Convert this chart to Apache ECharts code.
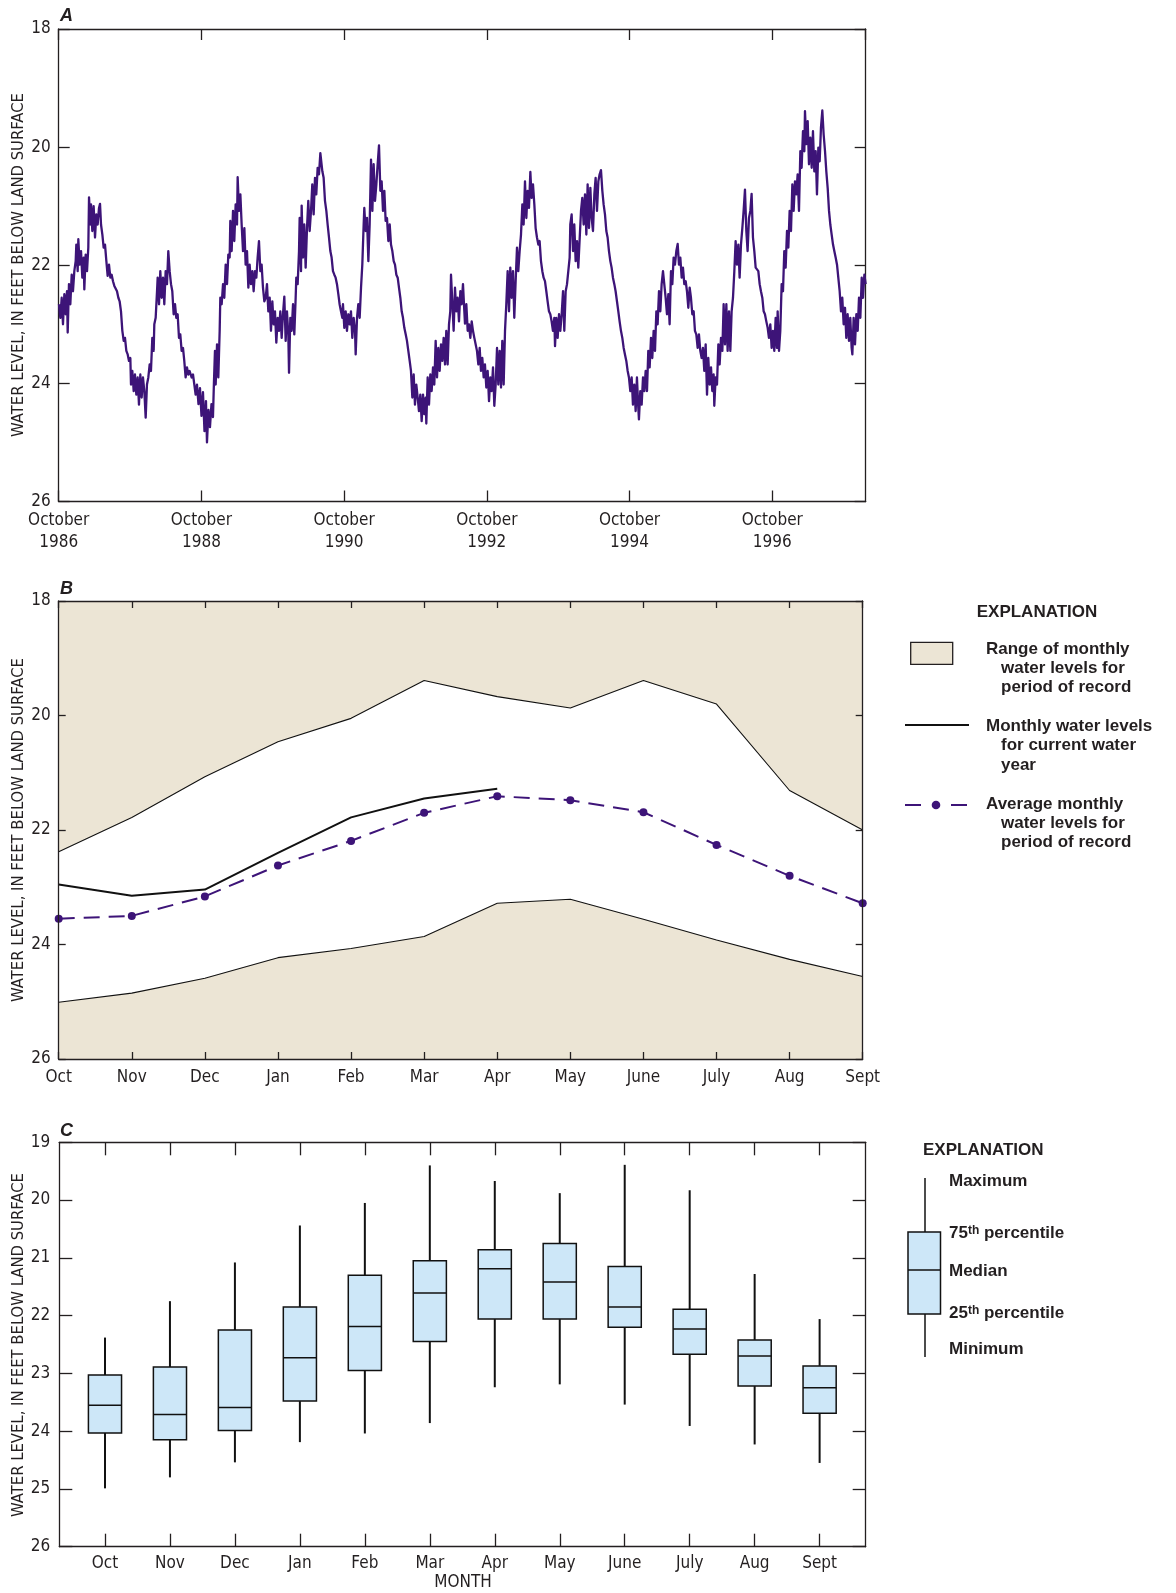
<!DOCTYPE html>
<html><head><meta charset="utf-8">
<script src="https://cdn.jsdelivr.net/npm/echarts@6/dist/echarts.min.js"></script>
<style>html,body{margin:0;padding:0;background:#fff}#chart{width:1176px;height:1593px}</style>
</head><body><div id="chart"></div>
<script>
// ---------- Panel A: hydrograph (time in years since 1 October 1986) ----------
const hydroStartYear = 1986;
const hydroTickYears = [0, 2, 4, 6, 8, 10];
const hydroTime = [
0.004,0.023,0.042,0.060,0.079,0.098,0.116,0.126,0.144,0.163,0.182,0.200,0.219,0.238,0.247,0.266,0.275,0.294,0.313,0.331,
0.350,0.359,0.378,0.397,0.415,0.425,0.443,0.453,0.471,0.490,0.509,0.527,0.546,0.565,0.579,0.593,0.612,0.630,0.649,0.668,
0.686,0.705,0.724,0.742,0.761,0.780,0.798,0.817,0.836,0.854,0.873,0.892,0.911,0.929,0.948,0.967,0.985,1.004,1.013,1.032,
1.051,1.069,1.088,1.107,1.125,1.144,1.163,1.181,1.200,1.219,1.237,1.256,1.275,1.293,1.312,1.331,1.340,1.359,1.378,1.387,
1.406,1.424,1.443,1.462,1.480,1.499,1.518,1.536,1.555,1.574,1.592,1.611,1.630,1.648,1.667,1.686,1.704,1.723,1.742,1.760,
1.779,1.798,1.817,1.835,1.863,1.882,1.901,1.919,1.938,
1.959,1.980,2.001,2.022,2.043,2.064,2.078,2.099,2.120,2.141,2.162,2.176,
2.190,2.200,2.219,2.237,2.256,2.265,2.284,2.303,2.321,2.340,2.359,2.377,2.396,2.405,2.424,2.443,2.461,2.480,2.499,2.508,
2.527,2.546,2.564,2.583,2.602,2.620,2.639,2.658,2.676,2.695,2.714,2.732,2.751,2.770,2.788,2.807,2.826,2.844,2.863,2.882,
2.901,2.919,2.938,2.957,2.975,2.994,3.013,3.031,3.050,3.069,3.087,3.106,3.125,3.143,3.162,3.181,3.199,3.218,3.228,3.246,
3.265,3.284,3.302,3.321,3.330,3.349,3.368,3.377,3.396,3.405,3.424,3.442,3.461,3.480,3.498,3.517,3.536,3.554,3.573,3.592,
3.610,3.629,3.648,3.667,3.676,3.695,3.713,3.732,3.751,3.769,3.788,3.807,3.825,3.844,3.863,3.881,3.900,3.919,3.937,3.956,
3.975,3.984,4.003,4.022,4.040,4.059,4.078,4.096,4.115,4.134,4.153,4.162,4.181,4.199,4.218,4.237,4.255,4.274,4.283,4.302,
4.321,4.340,4.358,4.377,4.396,4.414,4.433,4.452,4.470,4.489,4.508,4.526,4.545,4.564,4.582,4.601,4.620,4.639,4.657,4.676,
4.695,4.713,4.732,4.751,4.769,4.788,4.807,4.825,4.844,4.863,4.881,4.900,4.919,4.937,4.956,4.975,4.993,5.012,5.031,5.049,
5.068,5.087,5.106,5.124,5.143,5.152,5.171,5.190,5.208,5.227,5.246,5.264,5.283,5.302,5.320,5.339,5.358,5.376,5.395,5.414,
5.432,5.451,5.470,5.488,5.498,5.516,5.535,5.554,5.573,5.591,5.610,5.629,5.647,5.666,5.685,
5.694,5.713,5.732,5.750,5.769,5.788,5.806,5.825,5.844,5.862,5.881,5.900,5.918,5.937,5.956,5.974,5.993,6.012,6.031,6.049,
6.068,6.087,6.105,6.124,6.143,6.161,6.180,6.199,6.217,6.236,6.255,6.273,6.292,6.311,6.329,6.348,6.367,6.385,6.404,6.423,
6.441,6.460,6.479,6.498,6.516,6.535,6.554,6.572,6.591,6.610,6.628,6.647,6.666,6.684,6.703,6.722,6.740,6.759,6.778,6.796,
6.815,6.834,6.852,6.871,6.890,6.908,6.927,6.946,6.956,6.974,6.993,7.012,7.030,7.049,7.068,7.086,7.105,7.124,7.142,7.161,
7.170,7.189,7.208,7.226,7.245,7.264,7.282,7.301,7.320,7.338,7.357,7.376,7.395,7.413,7.432,7.451,7.469,7.488,7.507,7.525,
7.544,7.563,7.581,7.600,7.619,7.637,7.656,7.675,7.693,7.712,7.731,7.749,7.768,7.787,7.805,7.824,7.843,7.861,7.880,7.899,
7.918,7.936,7.955,7.974,7.992,8.011,8.030,8.048,8.067,8.086,8.104,8.123,8.132,8.151,8.170,8.189,8.207,8.226,8.245,8.263,
8.282,8.301,8.319,8.338,8.357,8.376,8.394,8.413,8.432,8.450,8.469,
8.506,8.525,8.544,8.562,8.581,8.600,8.618,8.637,8.656,8.675,8.693,8.712,8.731,8.749,8.768,8.787,8.805,8.824,8.843,8.861,
8.880,8.899,8.917,8.936,8.955,8.973,8.992,9.011,9.029,9.048,9.067,9.086,9.104,9.123,9.142,9.160,9.179,9.188,9.207,9.226,
9.245,9.263,9.282,9.301,9.319,9.338,9.357,9.375,9.394,9.413,9.431,9.450,9.469,9.487,9.506,9.525,9.543,9.562,9.581,9.599,
9.618,9.637,9.655,9.674,9.693,9.711,9.730,9.749,9.768,9.786,9.805,9.824,9.842,9.861,9.880,9.898,9.917,9.936,9.954,9.973,
9.992,10.010,10.029,10.048,10.066,10.076,10.095,10.113,10.132,10.151,10.169,10.188,10.207,10.226,10.244,10.263,10.282,10.300,10.319,10.338,
10.356,10.375,10.394,10.412,10.431,10.450,10.459,10.478,10.497,10.515,10.534,10.553,10.571,10.590,10.609,10.627,10.646,10.665,10.683,10.702,
10.721,10.740,10.758,10.777,10.796,10.814,10.833,10.852,10.870,10.889,10.908,10.926,10.945,10.964,10.982,11.001,11.020,11.038,11.057,11.076,
11.094,11.113,11.123,11.141,11.160,11.179,11.198,11.216,11.235,11.254,11.272,11.291,11.310
];
const hydroLevel = [
22.66,22.89,22.55,23.00,22.49,22.83,22.44,23.14,22.32,22.66,22.16,22.44,22.10,21.93,21.65,22.10,21.56,21.99,21.76,22.21,
21.87,22.41,21.82,22.10,21.70,20.85,21.31,20.97,21.42,21.00,21.53,21.14,21.31,21.03,20.96,21.31,21.48,21.70,21.65,21.93,
22.18,21.99,22.21,22.16,22.27,22.35,22.32,22.44,22.55,22.61,22.78,23.11,23.28,23.23,23.45,23.51,23.62,23.57,24.02,23.79,
24.13,23.85,24.19,23.90,24.36,23.85,24.24,23.90,24.13,24.58,24.02,23.90,23.68,23.79,23.23,23.45,23.00,22.89,22.44,22.21,
22.66,22.10,22.55,22.21,22.66,22.10,22.32,21.76,22.10,22.32,22.44,22.83,22.66,22.89,22.83,23.23,23.17,23.45,23.40,23.62,
23.90,23.73,23.85,23.79,23.90,23.85,24.02,24.19,24.02,
24.35,24.08,24.55,24.15,24.81,24.30,25.00,24.45,24.74,24.35,24.57,23.97,
23.45,24.02,23.34,23.90,23.11,22.55,22.66,22.32,22.55,21.99,22.32,21.82,21.87,21.25,21.76,21.08,21.59,20.97,21.31,20.51,
21.08,20.80,21.31,21.76,21.37,21.99,21.76,22.38,21.99,22.32,22.10,22.44,22.10,22.21,21.87,21.59,22.10,21.99,22.38,22.61,
22.55,22.32,22.78,22.55,23.11,22.61,23.00,22.78,23.31,22.89,23.11,22.78,23.23,22.83,22.53,23.28,22.78,23.17,23.82,22.89,
23.11,22.66,23.17,22.55,22.21,22.32,21.76,21.20,22.10,20.99,21.87,21.31,22.04,21.37,20.91,21.42,21.08,20.63,21.14,20.52,
20.80,20.35,20.46,20.10,20.07,20.41,20.52,20.91,21.08,21.31,21.53,21.76,21.87,22.10,22.16,22.21,22.32,22.49,22.66,22.78,
22.89,22.66,23.06,22.78,23.11,22.83,23.00,22.78,23.23,22.89,23.11,23.51,22.89,22.66,22.89,22.38,21.99,21.31,21.03,21.42,
21.20,21.93,21.31,20.21,21.08,20.29,20.91,20.63,20.29,19.97,20.74,20.58,21.08,20.74,21.25,21.20,21.59,21.31,21.65,21.76,
21.93,21.99,22.16,22.21,22.38,22.55,22.78,22.89,23.06,23.17,23.28,23.45,23.62,23.79,24.24,23.85,24.36,24.02,24.24,24.47,
24.19,24.64,24.19,24.52,24.24,24.68,23.90,24.36,23.85,24.13,23.73,24.02,23.28,23.90,23.40,23.79,23.34,23.62,23.23,23.68,
23.11,23.68,23.00,22.78,22.16,22.61,23.11,22.38,22.78,22.55,22.95,22.44,22.66,22.32,22.78,
22.99,22.66,23.11,23.00,23.23,22.95,23.11,23.23,23.34,23.45,23.68,23.40,23.79,23.57,23.90,23.68,24.07,23.79,24.30,23.90,
24.13,23.73,24.38,24.02,23.40,24.02,23.45,24.07,23.28,24.02,23.11,22.66,22.10,22.78,22.04,22.55,22.10,22.89,22.27,21.70,
22.10,21.76,21.48,20.97,21.31,20.58,21.20,20.74,21.03,20.42,20.86,20.63,20.97,21.37,21.53,21.65,21.59,21.93,22.10,22.21,
22.27,22.44,22.61,22.78,22.83,22.95,23.11,22.89,23.37,22.89,23.23,22.83,23.11,22.83,22.44,23.11,22.44,22.32,22.10,21.87,
21.31,21.14,21.76,21.31,21.93,21.59,22.04,22.04,21.08,20.86,21.31,20.80,21.48,20.63,21.37,20.69,21.20,21.42,20.80,20.52,
21.08,20.58,20.46,20.39,20.74,20.97,21.14,21.42,21.53,21.76,21.93,22.04,22.21,22.32,22.44,22.61,22.78,22.95,23.11,23.23,
23.40,23.51,23.62,23.79,23.90,24.13,23.90,24.36,24.02,24.47,23.90,24.41,24.61,24.13,24.36,23.90,24.13,23.79,24.13,23.45,
23.73,23.23,23.57,23.11,23.45,22.78,23.00,22.44,22.78,22.32,22.10,
22.55,22.83,22.49,23.00,22.10,22.32,21.87,21.99,21.76,21.64,21.99,21.87,22.21,22.04,22.32,22.27,22.44,22.72,22.38,22.55,
22.83,22.78,23.11,23.17,23.40,23.17,23.45,23.57,23.40,23.79,23.34,24.19,23.57,24.02,23.73,24.13,23.85,24.38,23.90,24.02,
23.34,23.68,23.23,23.45,22.66,23.34,22.66,23.45,22.78,23.45,22.78,22.55,22.10,21.59,21.99,21.65,22.21,21.65,21.37,21.08,
20.72,21.42,21.76,21.20,21.08,20.79,21.53,21.76,22.04,22.07,22.10,22.32,22.44,22.55,22.78,22.83,22.95,23.06,23.23,23.00,
23.40,23.11,23.45,22.89,23.40,22.78,23.45,23.11,22.32,22.44,21.76,22.04,21.42,21.70,21.08,21.42,20.63,21.08,20.58,20.80,
20.46,21.08,20.07,20.35,19.73,20.07,19.39,19.95,19.56,20.29,19.84,20.35,19.73,20.41,20.07,20.80,20.01,20.24,19.67,19.38,
19.79,20.07,20.41,20.69,21.08,21.31,21.48,21.65,21.76,21.87,21.99,22.21,22.44,22.78,22.55,23.00,22.72,23.23,22.83,23.28,
22.89,23.40,23.51,22.89,23.34,22.83,23.11,22.55,22.89,22.21,22.55,22.16,22.32
];

// ---------- Panel B: monthly levels ----------
const monthNames = ['Oct','Nov','Dec','Jan','Feb','Mar','Apr','May','June','July','Aug','Sept'];
const rangeShallowest = [22.38, 21.78, 21.07, 20.46, 20.05, 19.39, 19.67, 19.87, 19.39, 19.80, 21.31, 22.00];
const rangeDeepest    = [25.01, 24.85, 24.59, 24.23, 24.07, 23.86, 23.28, 23.21, 23.56, 23.92, 24.26, 24.56];
const currentYearLevel = [22.95, 23.15, 23.04, 22.40, 21.78, 21.45, 21.28];
const averageMonthly   = [23.55, 23.50, 23.16, 22.62, 22.19, 21.70, 21.41, 21.48, 21.69, 22.26, 22.80, 23.28];

// ---------- Panel C: box plots ----------
const boxMaximum = [22.38, 21.75, 21.08, 20.44, 20.05, 19.40, 19.67, 19.88, 19.39, 19.83, 21.28, 22.06];
const box75th    = [23.03, 22.89, 22.25, 21.85, 21.30, 21.05, 20.86, 20.75, 21.15, 21.89, 22.42, 22.87];
const boxMedian  = [23.55, 23.71, 23.59, 22.73, 22.19, 21.61, 21.19, 21.42, 21.85, 22.23, 22.70, 23.25];
const box25th    = [24.03, 24.15, 23.99, 23.48, 22.95, 22.45, 22.06, 22.06, 22.20, 22.67, 23.22, 23.69];
const boxMinimum = [24.99, 24.80, 24.54, 24.19, 24.04, 23.86, 23.24, 23.19, 23.54, 23.91, 24.23, 24.55];

// ---------- styling ----------
const FRAME = '#231f20', TXT = '#231f20', PURPLE = '#3d1478', BEIGE = '#ece5d5', BOXFILL = '#cde7f8';
const NARROW = "'Liberation Sans Narrow','Arial Narrow','DejaVu Sans Condensed',sans-serif";
const BOLD = "'Liberation Sans',Arial,sans-serif";
const TITLE = 'WATER LEVEL, IN FEET BELOW LAND SURFACE';

function aLine(){ return {show:true, onZero:false, lineStyle:{color:FRAME, width:1.3}}; }
function tick(len, align){ return {show:true, inside:true, length:len, alignWithLabel:!!align, lineStyle:{color:FRAME, width:1.3}}; }
function lab(show, margin, extra){ return Object.assign({show:show, margin:margin, color:TXT, fontSize:17, fontFamily:NARROW}, extra||{}); }

const chart = echarts.init(document.getElementById('chart'), null, {renderer:'canvas'});
const option = {
  animation:false,
  backgroundColor:'#fff',
  grid:[
    {left:58.7, top:29, width:807, height:472.5},
    {left:58.7, top:601, width:804, height:458, show:true, backgroundColor:BEIGE, borderWidth:0},
    {left:59.3, top:1142.3, width:806.4, height:404.4},
    {left:72.5, top:1142.3, width:779.6, height:404.4}
  ],
  xAxis:[
    {gridIndex:0, type:'value', position:'bottom', min:0, max:11.31, interval:2, axisLine:aLine(), axisTick:tick(11), splitLine:{show:false},
     axisLabel:lab(true, 8, {lineHeight:22, showMaxLabel:false, formatter:function(v){const r=Math.round(v); if(Math.abs(v-r)>1e-6 || hydroTickYears.indexOf(r)<0) return ''; return 'October\n'+(hydroStartYear+r);}})},
    {gridIndex:0, type:'value', position:'top', min:0, max:11.31, interval:2, axisLine:aLine(), axisTick:tick(11), splitLine:{show:false}, axisLabel:{show:false}},
    {gridIndex:1, type:'category', position:'bottom', data:monthNames, boundaryGap:false, z:5, axisLine:aLine(), axisTick:tick(7), splitLine:{show:false}, axisLabel:lab(true, 10, {interval:0})},
    {gridIndex:1, type:'category', position:'top', data:monthNames, boundaryGap:false, z:5, axisLine:aLine(), axisTick:tick(7), splitLine:{show:false}, axisLabel:{show:false}},
    {gridIndex:2, type:'value', position:'bottom', min:0, max:1, axisLine:aLine(), axisTick:{show:false}, splitLine:{show:false}, axisLabel:{show:false}},
    {gridIndex:2, type:'value', position:'top', min:0, max:1, axisLine:aLine(), axisTick:{show:false}, splitLine:{show:false}, axisLabel:{show:false}},
    {gridIndex:3, type:'category', position:'bottom', data:monthNames, boundaryGap:true, axisLine:{show:false, onZero:false}, axisTick:tick(13, true), splitLine:{show:false}, axisLabel:lab(true, 8, {interval:0})},
    {gridIndex:3, type:'category', position:'top', data:monthNames, boundaryGap:true, axisLine:{show:false, onZero:false}, axisTick:tick(13, true), splitLine:{show:false}, axisLabel:{show:false}}
  ],
  yAxis:[
    {gridIndex:0, type:'value', position:'left', inverse:true, min:18, max:26, interval:2, axisLine:aLine(), axisTick:tick(11), splitLine:{show:false}, axisLabel:lab(true, 8)},
    {gridIndex:0, type:'value', position:'right', inverse:true, min:18, max:26, interval:2, axisLine:aLine(), axisTick:tick(11), splitLine:{show:false}, axisLabel:{show:false}},
    {gridIndex:1, type:'value', position:'left', inverse:true, min:18, max:26, interval:2, z:5, axisLine:aLine(), axisTick:tick(7), splitLine:{show:false}, axisLabel:lab(true, 8)},
    {gridIndex:1, type:'value', position:'right', inverse:true, min:18, max:26, interval:2, z:5, axisLine:aLine(), axisTick:tick(7), splitLine:{show:false}, axisLabel:{show:false}},
    {gridIndex:2, type:'value', position:'left', inverse:true, min:19, max:26, interval:1, axisLine:aLine(), axisTick:tick(13), splitLine:{show:false}, axisLabel:lab(true, 9)},
    {gridIndex:2, type:'value', position:'right', inverse:true, min:19, max:26, interval:1, axisLine:aLine(), axisTick:tick(13), splitLine:{show:false}, axisLabel:{show:false}},
    {gridIndex:3, type:'value', show:false, inverse:true, min:19, max:26, interval:1}
  ],
  series:[
    {type:'line', xAxisIndex:0, yAxisIndex:0, showSymbol:false, symbol:'none',
     lineStyle:{color:PURPLE, width:2.3, join:'round'},
     data: hydroTime.map(function(t,i){ return [t, hydroLevel[i]]; })},
    {type:'line', xAxisIndex:2, yAxisIndex:2, symbol:'none', data:rangeDeepest,
     lineStyle:{color:'#111', width:1.1}, areaStyle:{color:'#ffffff', opacity:1, origin:'start'}},
    {type:'line', xAxisIndex:2, yAxisIndex:2, symbol:'none', data:rangeShallowest,
     lineStyle:{color:'#111', width:1.1}, areaStyle:{color:BEIGE, opacity:1, origin:'start'}},
    {type:'line', xAxisIndex:2, yAxisIndex:2, symbol:'none', data:currentYearLevel,
     lineStyle:{color:'#111', width:2}},
    {type:'line', xAxisIndex:2, yAxisIndex:2, symbol:'circle', symbolSize:8, showSymbol:true, data:averageMonthly,
     itemStyle:{color:PURPLE}, lineStyle:{color:PURPLE, width:2, type:[16,9]}},
    {type:'custom', xAxisIndex:6, yAxisIndex:6,
     encode:{x:0, y:[1,2,3,4,5]},
     data: monthNames.map(function(m,i){ return [i, boxMaximum[i], box75th[i], boxMedian[i], box25th[i], boxMinimum[i]]; }),
     renderItem:function(params, api){
       const i = api.value(0);
       const pTop = api.coord([i, api.value(1)]);
       const pQ3 = api.coord([i, api.value(2)]);
       const pMed = api.coord([i, api.value(3)]);
       const pQ1 = api.coord([i, api.value(4)]);
       const pBot = api.coord([i, api.value(5)]);
       const w = api.size([1,0])[0]*0.51;
       const x = pTop[0];
       return {type:'group', children:[
         {type:'line', shape:{x1:x, y1:pTop[1], x2:x, y2:pQ3[1]}, style:{stroke:'#111', lineWidth:2}},
         {type:'line', shape:{x1:x, y1:pQ1[1], x2:x, y2:pBot[1]}, style:{stroke:'#111', lineWidth:2}},
         {type:'rect', shape:{x:x-w/2, y:pQ3[1], width:w, height:pQ1[1]-pQ3[1]}, style:{fill:BOXFILL, stroke:'#111', lineWidth:1.5}},
         {type:'line', shape:{x1:x-w/2, y1:pMed[1], x2:x+w/2, y2:pMed[1]}, style:{stroke:'#111', lineWidth:1.5}}
       ]};
     }}
  ],
  graphic:{elements:[
    {type:'text', x:60, y:16, style:{text:'A', font:'italic bold 18px '+BOLD, fill:TXT, align:'left', verticalAlign:'middle'}},
    {type:'text', x:60, y:589, style:{text:'B', font:'italic bold 18px '+BOLD, fill:TXT, align:'left', verticalAlign:'middle'}},
    {type:'text', x:60, y:1131, style:{text:'C', font:'italic bold 18px '+BOLD, fill:TXT, align:'left', verticalAlign:'middle'}},
    {type:'text', x:19, y:265, rotation:Math.PI/2, style:{text:TITLE, font:'16.5px '+NARROW, fill:TXT, align:'center', verticalAlign:'middle'}},
    {type:'text', x:19, y:830, rotation:Math.PI/2, style:{text:TITLE, font:'16.5px '+NARROW, fill:TXT, align:'center', verticalAlign:'middle'}},
    {type:'text', x:19, y:1345, rotation:Math.PI/2, style:{text:TITLE, font:'16.5px '+NARROW, fill:TXT, align:'center', verticalAlign:'middle'}},
    {type:'text', x:463, y:1583, style:{text:'MONTH', font:'17px '+NARROW, fill:TXT, align:'center', verticalAlign:'middle'}},
    // legend B
    {type:'text', x:1037, y:612, style:{text:'EXPLANATION', font:'bold 17px '+BOLD, fill:TXT, align:'center', verticalAlign:'middle'}},
    {type:'rect', shape:{x:910.7, y:642.3, width:42, height:22}, style:{fill:BEIGE, stroke:FRAME, lineWidth:1.3}},
    {type:'text', x:986, y:649, style:{text:'Range of monthly', font:'bold 17px '+BOLD, fill:TXT, align:'left', verticalAlign:'middle'}},
    {type:'text', x:1001, y:668, style:{text:'water levels for', font:'bold 17px '+BOLD, fill:TXT, align:'left', verticalAlign:'middle'}},
    {type:'text', x:1001, y:687, style:{text:'period of record', font:'bold 17px '+BOLD, fill:TXT, align:'left', verticalAlign:'middle'}},
    {type:'line', shape:{x1:905, y1:725, x2:969, y2:725}, style:{stroke:'#111', lineWidth:2}},
    {type:'text', x:986, y:726, style:{text:'Monthly water levels', font:'bold 17px '+BOLD, fill:TXT, align:'left', verticalAlign:'middle'}},
    {type:'text', x:1001, y:745, style:{text:'for current water', font:'bold 17px '+BOLD, fill:TXT, align:'left', verticalAlign:'middle'}},
    {type:'text', x:1001, y:765, style:{text:'year', font:'bold 17px '+BOLD, fill:TXT, align:'left', verticalAlign:'middle'}},
    {type:'line', shape:{x1:905, y1:805, x2:921, y2:805}, style:{stroke:PURPLE, lineWidth:2}},
    {type:'line', shape:{x1:951, y1:805, x2:967, y2:805}, style:{stroke:PURPLE, lineWidth:2}},
    {type:'circle', shape:{cx:936, cy:805, r:4.3}, style:{fill:PURPLE}},
    {type:'text', x:986, y:804, style:{text:'Average monthly', font:'bold 17px '+BOLD, fill:TXT, align:'left', verticalAlign:'middle'}},
    {type:'text', x:1001, y:823, style:{text:'water levels for', font:'bold 17px '+BOLD, fill:TXT, align:'left', verticalAlign:'middle'}},
    {type:'text', x:1001, y:842, style:{text:'period of record', font:'bold 17px '+BOLD, fill:TXT, align:'left', verticalAlign:'middle'}},
    // legend C
    {type:'text', x:923, y:1150, style:{text:'EXPLANATION', font:'bold 17px '+BOLD, fill:TXT, align:'left', verticalAlign:'middle'}},
    {type:'line', shape:{x1:925, y1:1178, x2:925, y2:1357}, style:{stroke:'#111', lineWidth:1.5}},
    {type:'rect', shape:{x:908, y:1232, width:32.5, height:82}, style:{fill:BOXFILL, stroke:'#111', lineWidth:1.5}},
    {type:'line', shape:{x1:908, y1:1270, x2:940.5, y2:1270}, style:{stroke:'#111', lineWidth:1.5}},
    {type:'text', x:949, y:1181, style:{text:'Maximum', font:'bold 17px '+BOLD, fill:TXT, align:'left', verticalAlign:'middle'}},
    {type:'text', x:949, y:1233, style:{text:'{b|75}{s|th}{b| percentile}', fill:TXT, align:'left', verticalAlign:'middle',
      rich:{b:{font:'bold 17px '+BOLD, fill:TXT}, s:{font:'bold 12px '+BOLD, fill:TXT, verticalAlign:'top'}}}},
    {type:'text', x:949, y:1271, style:{text:'Median', font:'bold 17px '+BOLD, fill:TXT, align:'left', verticalAlign:'middle'}},
    {type:'text', x:949, y:1313, style:{text:'{b|25}{s|th}{b| percentile}', fill:TXT, align:'left', verticalAlign:'middle',
      rich:{b:{font:'bold 17px '+BOLD, fill:TXT}, s:{font:'bold 12px '+BOLD, fill:TXT, verticalAlign:'top'}}}},
    {type:'text', x:949, y:1349, style:{text:'Minimum', font:'bold 17px '+BOLD, fill:TXT, align:'left', verticalAlign:'middle'}}
  ]}
};
chart.setOption(option);
</script>
</body></html>
